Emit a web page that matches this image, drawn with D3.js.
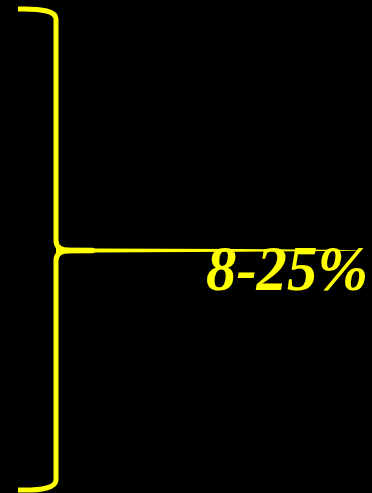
<!DOCTYPE html>
<html>
<head>
<script src="https://d3js.org/d3.v7.min.js"></script>
<style>
  body { margin: 0; background: #000; }
</style>
</head>
<body>
<svg id="chart" width="372" height="493"></svg>
<script>
  // brace spans the whole range, tip marks the share below
  const braceRange = [0, 1];
  const tipAt = [0.502];
  const labels = ["8-25%"];

  const svg = d3.select("#chart");
  const yellow = "#ffff00";

  svg.append("rect").attr("width", 372).attr("height", 493).attr("fill", "#000");

  const y = d3.scaleLinear().domain(braceRange).range([9, 490]);
  const x = d3.scaleLinear().domain([0, 1]).range([56, 360]);

  const yTop = y(braceRange[0]), yBot = y(braceRange[1]), yMid = y(tipAt[0]);
  const xv = x(0);

  // curly brace
  const p = d3.path();
  p.moveTo(18, yTop);
  p.quadraticCurveTo(xv, yTop - 1, xv, yTop + 10);
  p.lineTo(xv, yMid - 10);
  p.quadraticCurveTo(xv, yMid, xv + 14, yMid);
  p.moveTo(xv + 14, yMid);
  p.quadraticCurveTo(xv, yMid, xv, yMid + 10);
  p.lineTo(xv, yBot - 10);
  p.quadraticCurveTo(xv, yBot + 1, 18, yBot);

  svg.append("path")
    .attr("d", p.toString())
    .attr("fill", "none")
    .attr("stroke", yellow)
    .attr("stroke-width", 5);

  // tapering pointer line
  const line = d3.area()
    .x(d => x(d[0]))
    .y0(d => yMid - d[1])
    .y1(d => yMid + d[1]);
  svg.append("path")
    .datum([[0, 3], [0.12, 2.8], [0.13, 2], [0.6, 1.4], [0.9, 0.6], [1, 0.3]])
    .attr("d", line)
    .attr("fill", yellow);

  svg.selectAll("text.lbl")
    .data(labels)
    .enter()
    .append("text")
    .attr("class", "lbl")
    .attr("x", 368)
    .attr("y", yMid + 39.5)
    .attr("text-anchor", "end")
    .attr("textLength", 162)
    .attr("lengthAdjust", "spacingAndGlyphs")
    .attr("fill", yellow)
    .style("font-family", "'Liberation Serif', 'Times New Roman', serif")
    .style("font-weight", "bold")
    .style("font-style", "italic")
    .style("font-size", "64px")
    .text(d => d);
</script>
</body>
</html>
